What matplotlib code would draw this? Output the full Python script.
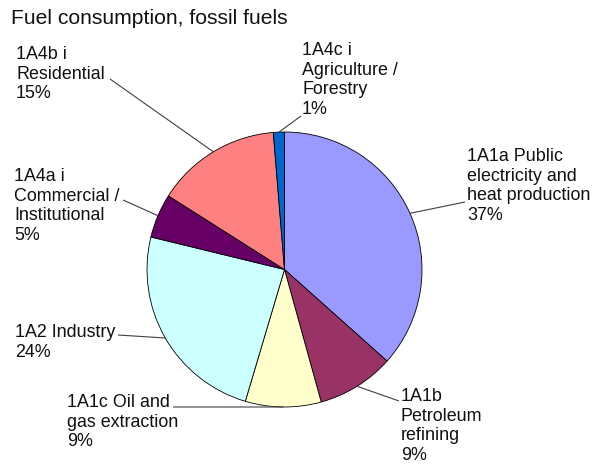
import numpy as np
import matplotlib
matplotlib.use("Agg")
import matplotlib.pyplot as plt

W, H = 596, 468

categories = [
    "1A1a Public\nelectricity and\nheat production",
    "1A1b\nPetroleum\nrefining",
    "1A1c Oil and\ngas extraction",
    "1A2 Industry",
    "1A4a i\nCommercial /\nInstitutional",
    "1A4b i\nResidential",
    "1A4c i\nAgriculture /\nForestry",
]
values = [36.6, 9.1, 8.9, 24.2, 5.2, 14.7, 1.3]
colors = ["#9999FF", "#993366", "#FFFFCC", "#CCFFFF", "#660066", "#FF8080", "#0066CC"]

# layout (pixel coordinates, y from top)
label_pos = [(467, 148), (401, 388), (67, 394), (15, 324), (14, 168), (16, 46), (302, 42)]
line_end = [(465, 202), (399, 401), (173, 407), (118, 335), (123, 200), (110, 79), (301, 116)]

plt.rcParams['font.family'] = ['Liberation Sans', 'DejaVu Sans']

fig = plt.figure(figsize=(W / 100, H / 100), dpi=100)
ax = fig.add_axes([0, 0, 1, 1])

cx, cy, r = 284.5, 269.5, 137.5

def Y(y):
    return H - y

wedges, _ = ax.pie(values, colors=colors, startangle=90, counterclock=False,
                   center=(cx, Y(cy)), radius=r, frame=True,
                   wedgeprops=dict(edgecolor="black", linewidth=0.6))
ax.set_xlim(0, W)
ax.set_ylim(0, H)
ax.set_aspect('equal')
ax.axis('off')

total = sum(values)
for i, (w, lab, v) in enumerate(zip(wedges, categories, values)):
    mid = np.deg2rad((w.theta1 + w.theta2) / 2)
    ex = cx + r * np.cos(mid)
    ey = Y(cy) + r * np.sin(mid)
    lx, ly = line_end[i]
    ax.plot([ex, lx], [ey, Y(ly)], color="#404040", lw=0.8, solid_capstyle='butt')
    tx, ty = label_pos[i]
    txt = f"{lab}\n{round(v / total * 100):d}%"
    ax.text(tx, Y(ty), txt, ha='left', va='top', fontsize=12.9,
            color="#111111", linespacing=1.2)

fig.text(11 / W, 1 - 9 / H, "Fuel consumption, fossil fuels", ha='left', va='top',
         fontsize=15.2, color="#111111")

fig.savefig("out.png", dpi=100)
